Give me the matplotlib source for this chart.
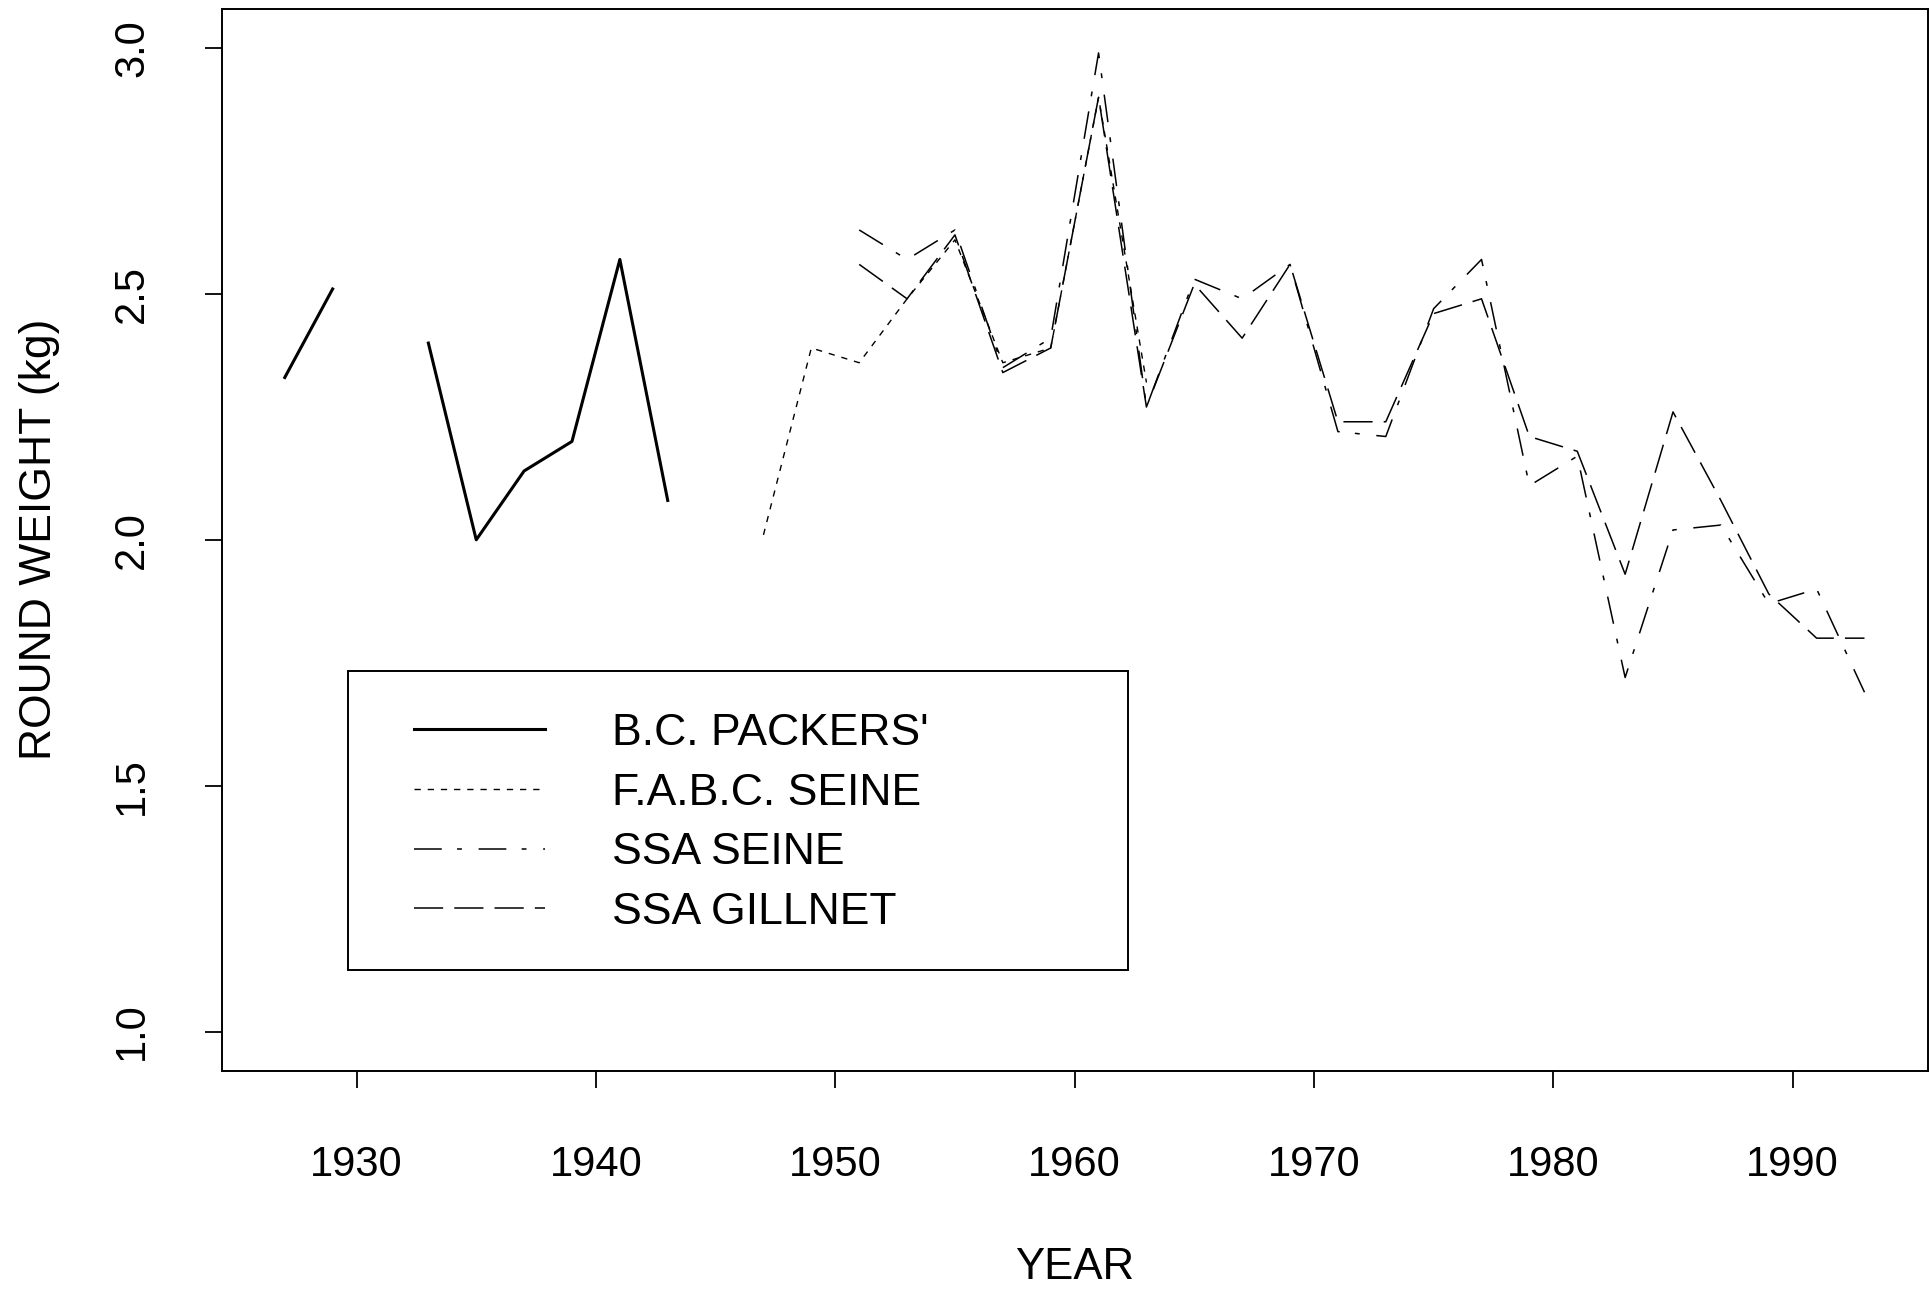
import numpy as np
import matplotlib
matplotlib.use("Agg")
import matplotlib.pyplot as plt
from matplotlib.patches import Rectangle

plt.rcParams['font.family'] = ['Liberation Sans', 'DejaVu Sans']
plt.rcParams['lines.scale_dashes'] = False

# B.C. Packers' (1931 missing)
bc_years = [1927, 1929, 1931, 1933, 1935, 1937, 1939, 1941, 1943]
bc_weight = [2.33, 2.51, np.nan, 2.40, 2.00, 2.14, 2.20, 2.57, 2.08]

# F.A.B.C. seine
fabc_years = [1947, 1949, 1951, 1953, 1955, 1957, 1959, 1961, 1963]
fabc_weight = [2.01, 2.39, 2.36, 2.49, 2.61, 2.36, 2.39, 2.90, 2.32]

# SSA seine and gillnet
ssa_years = [1951, 1953, 1955, 1957, 1959, 1961, 1963, 1965, 1967, 1969, 1971,
             1973, 1975, 1977, 1979, 1981, 1983, 1985, 1987, 1989, 1991, 1993]
ssa_seine = [2.63, 2.57, 2.63, 2.35, 2.41, 2.99, 2.27, 2.53, 2.49, 2.56, 2.22,
             2.21, 2.47, 2.57, 2.11, 2.17, 1.72, 2.02, 2.03, 1.87, 1.90, 1.69]
ssa_gillnet = [2.56, 2.49, 2.62, 2.34, 2.39, 2.90, 2.27, 2.52, 2.41, 2.56, 2.24,
               2.24, 2.46, 2.49, 2.21, 2.18, 1.93, 2.26, 2.08, 1.89, 1.80, 1.80]

x_ticks = [1930, 1940, 1950, 1960, 1970, 1980, 1990]
y_ticks = [1.0, 1.5, 2.0, 2.5, 3.0]

fig = plt.figure(figsize=(19.3, 12.9), dpi=100)
ax = fig.add_axes([0.1148, 0.1698, 0.8840, 0.8235])

l1, = ax.plot(bc_years, bc_weight, color='black', lw=2.2, label="B.C. PACKERS'")
l2, = ax.plot(fabc_years, fabc_weight, color='black', lw=1.0,
              dashes=(4.5, 5), label='F.A.B.C. SEINE')
l3, = ax.plot(ssa_years, ssa_seine, color='black', lw=1.1,
              dashes=(20, 11, 3.5, 12), label='SSA SEINE')
l4, = ax.plot(ssa_years, ssa_gillnet, color='black', lw=1.1,
              dashes=(21, 8), label='SSA GILLNET')

ax.set_xlim(1924.36, 1995.64)
ax.set_ylim(0.92, 3.08)
ax.set_xticks(x_ticks)
ax.set_yticks(y_ticks)
ax.set_yticklabels(['1.0', '1.5', '2.0', '2.5', '3.0'], rotation=90, va='center')
ax.tick_params(direction='out', length=12, width=1.3, labelsize=30)
ax.tick_params(axis='x', pad=41)
ax.tick_params(axis='y', pad=38)
for s in ax.spines.values():
    s.set_linewidth(1.4)

ax.set_xlabel('YEAR', fontsize=31.5, va='center')
ax.xaxis.set_label_coords(0.5, -0.1854)
ax.set_ylabel('ROUND WEIGHT (kg)', fontsize=32, va='center')
ax.yaxis.set_label_coords(-0.107, 0.5)

# legend box
ax.add_patch(Rectangle((0.0741, 0.0951), 0.4572, 0.2814, transform=ax.transAxes,
                       fill=False, edgecolor='black', lw=1.4, zorder=5))
ax.legend(handles=[l1, l2, l3, l4], loc='upper left', bbox_to_anchor=(0.1128, 0.337),
          frameon=False, fontsize=32, handlelength=2.95, handletextpad=1.5,
          labelspacing=0.42, borderpad=0, borderaxespad=0)

fig.savefig('out.png', dpi=100)
